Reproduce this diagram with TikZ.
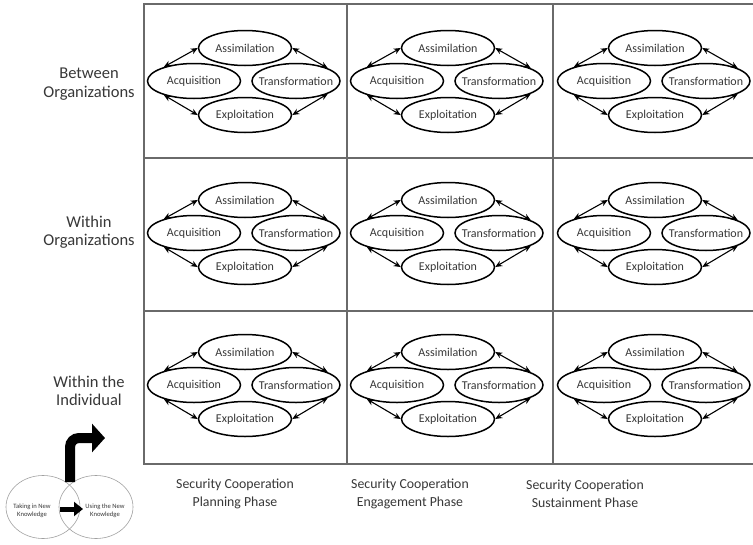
\documentclass[tikz,border=0pt]{standalone}
\usepackage{fontspec}
\setmainfont{Carlito}
\usetikzlibrary{shapes.geometric,arrows.meta}
\definecolor{inkgray}{HTML}{383838}
\definecolor{gridgray}{HTML}{6A6A6A}
\definecolor{venngray}{HTML}{A0A0A0}
\tikzset{
  bubble/.style={ellipse,draw=black,line width=1.5pt,fill=white,
    minimum width=93pt,minimum height=35pt,inner sep=0pt,
    font=\fontsize{12}{14}\selectfont,text=inkgray},
  widebubble/.style={bubble,minimum width=88pt},
  link/.style={line width=1.1pt,{Stealth[length=7pt,width=6pt]}-{Stealth[length=7pt,width=6pt]}},
  gridline/.style={draw=gridgray,line width=1.5pt},
  rowlabel/.style={align=center,font=\fontsize{16.5}{18.5}\selectfont,text=inkgray},
  collabel/.style={align=center,font=\fontsize{13.8}{18}\selectfont,text=inkgray},
  venn/.style={ellipse,draw=venngray,line width=0.6pt,minimum width=74pt,minimum height=63pt,inner sep=0pt},
  venntext/.style={align=center,font=\fontsize{6.6}{8}\selectfont,text=inkgray}
}
\begin{document}
\begin{tikzpicture}[x=1pt,y=-1pt]
\clip (0,0) rectangle (753,544);
\fill[white] (0,0) rectangle (753,544);

% phase grid (open on the right)
\draw[gridline] (753,4) -- (144,4) -- (144,464) -- (753,464);
\draw[gridline] (144,158) -- (753,158);
\draw[gridline] (144,311) -- (753,311);
\draw[gridline] (347,4) -- (347,464);
\draw[gridline] (553,4) -- (553,464);

% knowledge-absorption cycle in every cell
\foreach \cx/\cy/\id in {245/81/a,448/81/b,655/81/c,
                         245/233/d,448/233/e,655/233/f,
                         245/385/g,448/385/h,655/385/i}{
  \node[bubble] (\id asm) at (\cx,{\cy-33}) {\makebox[0pt]{Assimilation}};
  \node[bubble] (\id exp) at (\cx,{\cy+34}) {\makebox[0pt]{Exploitation}};
  \node[bubble] (\id acq) at ({\cx-51},\cy) {\makebox[0pt]{Acquisition}};
  \node[widebubble] (\id trf) at ({\cx+51},\cy) {\makebox[0pt]{Transformation}};
  \draw[link] (\id acq.155) -- (\id asm.west);
  \draw[link] (\id asm.east) -- (\id trf.22);
  \draw[link] (\id acq.205) -- (\id exp.west);
  \draw[link] (\id exp.east) -- (\id trf.-22);
}

% row labels
\node[rowlabel] (rowA) at (89,84) {Between\\Organizations};
\node[rowlabel] (rowB) at (89,232) {Within\\Organizations};
\node[rowlabel] (rowC) at (89,391) {Within the\\Individual};

% column labels
\node[collabel] (colA) at (235,494) {Security Cooperation\\Planning Phase};
\node[collabel] (colB) at (410,494) {Security Cooperation\\Engagement Phase};
\node[collabel] (colC) at (585,494) {Security Cooperation\\Sustainment Phase};

% individual-level inset
\node[venn] (takein) at (43,507) {};
\node[venn] (useit) at (96,507) {};
\node[venntext] (takeinText) at (32,511) {Taking in New\\Knowledge};
\node[venntext] (useitText) at (105,511) {Using the New\\Knowledge};
\coordinate (smallStart) at (60,509);
\coordinate (smallEnd) at (83,509);
\draw[line width=5pt,-{Triangle[length=9pt,width=14pt]}] (smallStart) -- (smallEnd);
\coordinate (bendFoot) at (70,482);
\coordinate (bendTip) at (105,438);
\draw[line width=10pt,rounded corners=9pt,-{Triangle[length=13pt,width=28pt]}]
  (bendFoot) |- (bendTip);
\end{tikzpicture}
\end{document}
